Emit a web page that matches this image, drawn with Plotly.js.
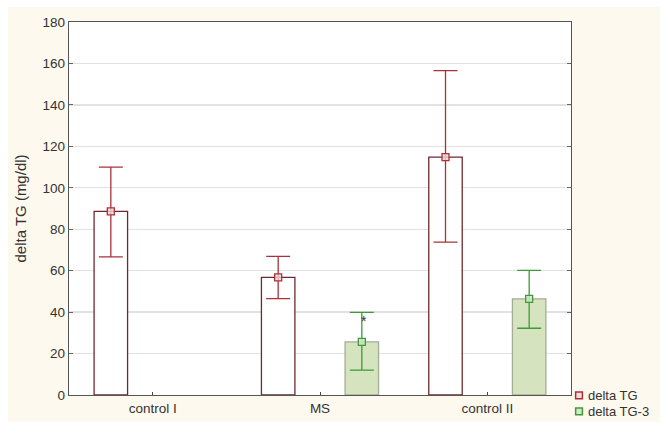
<!DOCTYPE html>
<html>
<head>
<meta charset="utf-8">
<script src="https://cdn.plot.ly/plotly-3.0.1.min.js"></script>
<style>
  html, body { margin: 0; padding: 0; background: #ffffff; }
  #chart { position: absolute; left: 8px; top: 7px; width: 652px; height: 415px; }
</style>
</head>
<body>
<div id="chart"></div>
<script>
// ---- data ----
const categories = ["control I", "MS", "control II"];
const seriesNames = ["delta TG", "delta TG-3"];
const deltaTG      = [88.6, 56.8, 114.8];
const deltaTGHigh  = [110.0, 66.9, 156.5];
const deltaTGLow   = [66.7, 46.5, 73.8];
const deltaTG3     = [null, 25.6, 46.4];
const deltaTG3High = [null, 39.9, 60.1];
const deltaTG3Low  = [null, 12.0, 32.2];
const yTicks = [0, 20, 40, 60, 80, 100, 120, 140, 160, 180];
const starCategory = "MS";
const starValue = 35.5;

// ---- build traces ----
const idx = categories.map((c, i) => i);
const OFF = 0.25;
const xRed = idx.map(i => i - OFF);
const xGreen = idx.map(i => i + OFF);

const redLine = "#6e2a2f";
const redErr = "#a8323a";
const greenFill = "#d5e3bf";
const greenLine = "#a3ad95";
const greenErr = "#3f9b3a";
const markerFills = ["rgba(240,215,215,0.8)", "rgba(205,230,195,0.9)"];
const markerLines = [redErr, greenErr];

const traces = [
  {
    type: "bar", x: xRed, y: deltaTG, width: 0.2,
    marker: { color: "#ffffff", line: { color: redLine, width: 1.3 } },
    showlegend: false, hoverinfo: "skip"
  },
  {
    type: "bar", x: xGreen, y: deltaTG3, width: 0.2,
    marker: { color: greenFill, line: { color: greenLine, width: 1.3 } },
    showlegend: false, hoverinfo: "skip"
  },
  {
    type: "scatter", mode: "markers", name: seriesNames[0], showlegend: false,
    x: xRed, y: deltaTG,
    marker: { symbol: "square", size: 7, color: markerFills[0], line: { color: redErr, width: 1.3 } },
    error_y: {
      type: "data", symmetric: false,
      array: deltaTGHigh.map((h, i) => h - deltaTG[i]),
      arrayminus: deltaTGLow.map((l, i) => deltaTG[i] - l),
      color: redErr, thickness: 1.3, width: 12
    }
  },
  {
    type: "scatter", mode: "markers", name: seriesNames[1], showlegend: false,
    x: xGreen, y: deltaTG3,
    marker: { symbol: "square", size: 7, color: markerFills[1], line: { color: greenErr, width: 1.3 } },
    error_y: {
      type: "data", symmetric: false,
      array: deltaTG3High.map((h, i) => h == null ? null : h - deltaTG3[i]),
      arrayminus: deltaTG3Low.map((l, i) => l == null ? null : deltaTG3[i] - l),
      color: greenErr, thickness: 1.3, width: 12
    }
  }
];

// compact legend (symbol + label) placed just right of the plot's lower corner
const legX = 1.016, legTextX = 1.029, legY0 = -0.001, legDy = 0.043;
const symW = 0.0135, symH = 0.0185;
const legendShapes = seriesNames.map((n, k) => ({
  type: "rect", xref: "paper", yref: "paper",
  x0: legX - symW / 2, x1: legX + symW / 2,
  y0: legY0 - k * legDy - symH / 2, y1: legY0 - k * legDy + symH / 2,
  fillcolor: markerFills[k], line: { color: markerLines[k], width: 1.5 }
}));
const legendTexts = seriesNames.map((n, k) => ({
  xref: "paper", yref: "paper", x: legTextX, y: legY0 - k * legDy,
  xanchor: "left", yanchor: "middle", text: n, showarrow: false,
  font: { size: 13, color: "#333" }
}));

const layout = {
  width: 652, height: 415,
  margin: { l: 61, r: 89, t: 15, b: 26.5, pad: 0, autoexpand: false },
  paper_bgcolor: "#fdf9ee",
  plot_bgcolor: "#ffffff",
  barmode: "overlay",
  showlegend: false,
  font: { family: "Liberation Sans, Arial, sans-serif", size: 13, color: "#333333" },
  xaxis: {
    range: [-0.5, 2.5],
    tickmode: "array", tickvals: idx, ticktext: categories,
    ticks: "inside", ticklen: 3, tickcolor: "#444",
    showgrid: false, zeroline: false,
    showline: true, linecolor: "#555555", linewidth: 1.3, mirror: true,
    tickfont: { size: 13.5, color: "#333" }, fixedrange: true
  },
  yaxis: {
    range: [0, 180],
    tickmode: "array", tickvals: yTicks,
    ticks: "inside", ticklen: 4, tickcolor: "#666", mirror: "allticks",
    showgrid: true, gridcolor: "#e2e2e2", gridwidth: 1.3,
    zeroline: false,
    showline: true, linecolor: "#555555", linewidth: 1.3,
    tickfont: { size: 13.5, color: "#333" },
    title: { text: "delta TG (mg/dl)", font: { size: 15, color: "#333" }, standoff: 12 },
    fixedrange: true
  },
  shapes: legendShapes,
  annotations: [
    {
      x: categories.indexOf(starCategory) + OFF + 0.015, y: starValue,
      xref: "x", yref: "y", text: "*", showarrow: false,
      font: { size: 14, color: "#333" }
    }
  ].concat(legendTexts)
};

Plotly.newPlot("chart", traces, layout, { displayModeBar: false, staticPlot: true });
</script>
</body>
</html>
